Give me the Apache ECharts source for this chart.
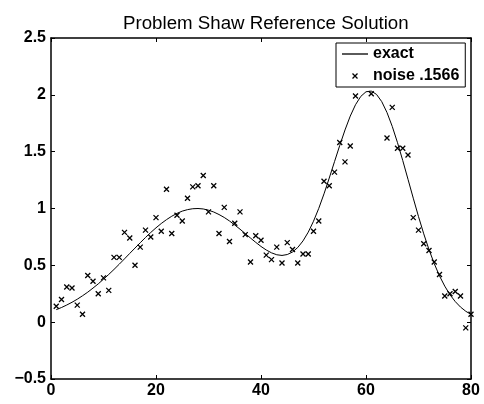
<!DOCTYPE html>
<html>
<head>
<meta charset="utf-8">
<script src="https://cdn.jsdelivr.net/npm/echarts@6/dist/echarts.min.js"></script>
<style>
html,body{margin:0;padding:0;background:#fff;}
#chart{width:484px;height:404px;}
</style>
</head>
<body>
<div id="chart"></div>
<script>
const titleText = 'Problem Shaw Reference Solution';
const seriesNames = ['exact', 'noise .1566'];
const xTicks = [0, 20, 40, 60, 80];
const yTicks = [-0.5, 0, 0.5, 1, 1.5, 2, 2.5];

const xIndex = [
  1,2,3,4,5,6,7,8,9,10,11,12,13,14,15,16,17,18,19,20,
  21,22,23,24,25,26,27,28,29,30,31,32,33,34,35,36,37,38,39,40,
  41,42,43,44,45,46,47,48,49,50,51,52,53,54,55,56,57,58,59,60,
  61,62,63,64,65,66,67,68,69,70,71,72,73,74,75,76,77,78,79,80
];

const exactValues = [
  0.110,0.129,0.151,0.175,0.202,0.232,0.264,0.300,0.337,0.378,
  0.420,0.464,0.510,0.557,0.605,0.652,0.699,0.745,0.789,0.830,
  0.868,0.902,0.932,0.957,0.977,0.990,0.998,1.000,0.996,0.985,
  0.969,0.947,0.921,0.890,0.855,0.818,0.779,0.740,0.702,0.666,
  0.635,0.610,0.593,0.587,0.595,0.617,0.657,0.715,0.792,0.888,
  1.001,1.129,1.268,1.412,1.555,1.691,1.813,1.913,1.986,2.027,
  2.033,2.004,1.940,1.844,1.722,1.579,1.422,1.257,1.091,0.929,
  0.777,0.638,0.515,0.407,0.317,0.241,0.181,0.133,0.096,0.068
];

const noiseValues = [
  0.14,0.20,0.31,0.30,0.15,0.07,0.41,0.36,0.25,0.39,
  0.28,0.57,0.57,0.79,0.74,0.50,0.66,0.81,0.75,0.92,
  0.80,1.17,0.78,0.94,0.89,1.09,1.19,1.20,1.29,0.97,
  1.20,0.78,1.01,0.71,0.87,0.97,0.77,0.53,0.76,0.72,
  0.59,0.55,0.66,0.52,0.70,0.64,0.52,0.60,0.60,0.80,
  0.89,1.24,1.20,1.32,1.58,1.41,1.55,1.99,2.20,2.25,
  2.01,2.15,2.20,1.62,1.89,1.53,1.53,1.47,0.92,0.81,
  0.69,0.63,0.53,0.42,0.23,0.25,0.27,0.23,-0.05,0.07
];

const FONT = '"Liberation Sans", Arial, Helvetica, sans-serif';
const exactData = xIndex.map((x, i) => [x, exactValues[i]]);
const noiseData = xIndex.map((x, i) => [x, noiseValues[i]]);

const lineStyleAxis = { color: '#000', width: 1.5 };
const tickStyle = { show: true, inside: true, length: 4, lineStyle: { color: '#000', width: 1 } };

function xAxisDef(pos, showLabel) {
  return {
    type: 'value', position: pos, min: xTicks[0], max: xTicks[xTicks.length - 1],
    interval: xTicks[1] - xTicks[0],
    axisLine: { show: true, onZero: false, lineStyle: lineStyleAxis },
    axisTick: tickStyle,
    splitLine: { show: false },
    axisLabel: {
      show: showLabel, color: '#000', fontFamily: FONT, fontWeight: 'bold', fontSize: 16, margin: 4
    }
  };
}
function yAxisDef(pos, showLabel) {
  return {
    type: 'value', position: pos, min: yTicks[0], max: yTicks[yTicks.length - 1],
    interval: yTicks[1] - yTicks[0],
    axisLine: { show: true, onZero: false, lineStyle: lineStyleAxis },
    axisTick: tickStyle,
    splitLine: { show: false },
    axisLabel: {
      show: showLabel, color: '#000', fontFamily: FONT, fontWeight: 'bold', fontSize: 16, margin: 5,
      formatter: v => String(v).replace('-', '\u2212')
    }
  };
}

const chart = echarts.init(document.getElementById('chart'), null, { renderer: 'canvas' });
chart.setOption({
  animation: false,
  backgroundColor: '#fff',
  title: {
    text: titleText, left: 118, top: 9,
    textStyle: { fontFamily: FONT, fontWeight: 'normal', fontSize: 18.7, color: '#000' }
  },
  grid: { left: 51, right: 13, top: 38, bottom: 25, containLabel: false, outerBoundsMode: 'none' },
  xAxis: [xAxisDef('bottom', true), xAxisDef('top', false)],
  yAxis: [yAxisDef('left', true), yAxisDef('right', false)],
  legend: {
    orient: 'vertical', left: 336, top: 43,
    backgroundColor: '#fff', borderColor: '#000', borderWidth: 1, borderRadius: 0,
    padding: [0, 6, 0, 6], itemGap: 0, itemWidth: 26, itemHeight: 5,
    textStyle: { fontFamily: FONT, fontWeight: 'bold', fontSize: 16, color: '#000', lineHeight: 22 },
    data: [
      { name: seriesNames[0], icon: 'path://M0,0L26,0L26,1.3L0,1.3Z',
        itemStyle: { color: '#000', borderWidth: 0 } },
      { name: seriesNames[1], itemStyle: { color: '#000', borderColor: '#000', borderWidth: 1.3 } }
    ]
  },
  series: [
    {
      name: seriesNames[0], type: 'line', xAxisIndex: 0, yAxisIndex: 0,
      data: exactData, symbol: 'none', smooth: false,
      lineStyle: { color: '#000', width: 1 }, itemStyle: { color: '#000' }, z: 2
    },
    {
      name: seriesNames[1], type: 'scatter', xAxisIndex: 0, yAxisIndex: 0,
      data: noiseData, symbol: 'path://M0,0L10,10M10,0L0,10', symbolSize: 5,
      itemStyle: { color: '#000', borderColor: '#000', borderWidth: 1.3, opacity: 1 }, z: 3
    }
  ]
});
</script>
</body>
</html>
